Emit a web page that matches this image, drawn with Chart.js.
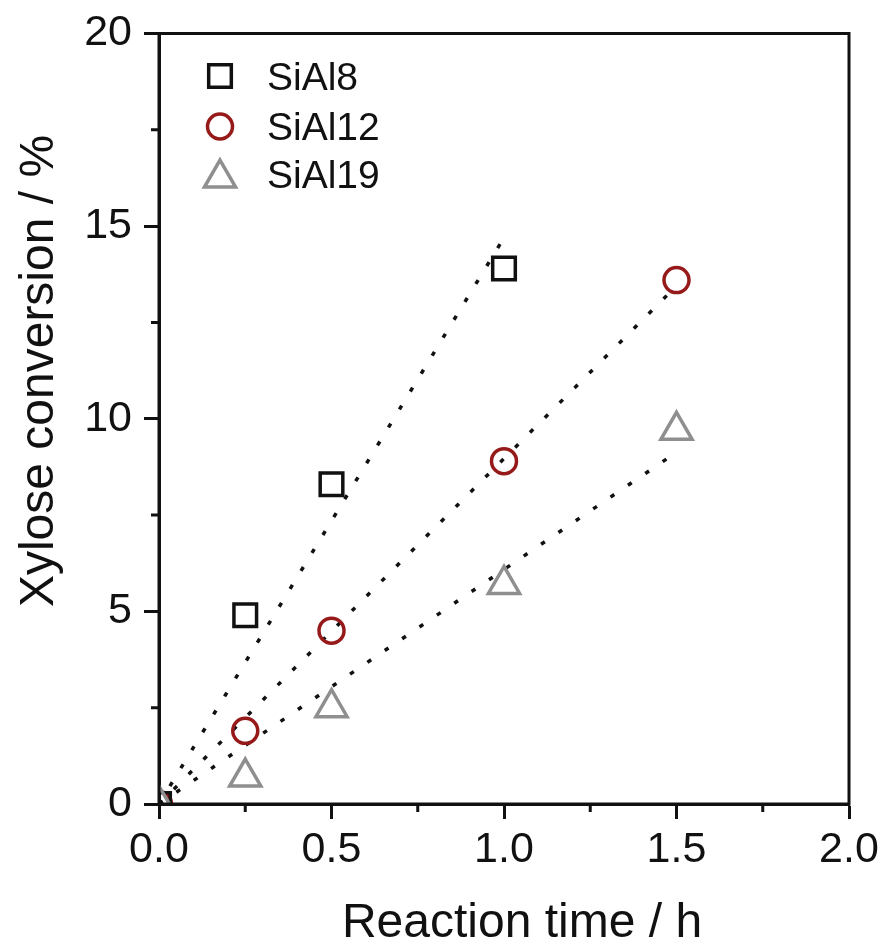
<!DOCTYPE html>
<html>
<head>
<meta charset="utf-8">
<script src="https://cdn.jsdelivr.net/npm/chart.js@4/dist/chart.umd.min.js"></script>
<style>
  body { margin: 0; background: #fff; }
  #wrap { width: 885px; height: 947px; }
</style>
</head>
<body>
<div id="wrap"><canvas id="chart-1" width="885" height="947"></canvas></div>
<script>
// measured points (reaction time in h, conversion in %)
const time_sial8 = [0, 0.25, 0.5, 1.0];
const conv_sial8 = [0, 4.9, 8.3, 13.9];
const time_sial12 = [0, 0.25, 0.5, 1.0, 1.5];
const conv_sial12 = [0, 1.9, 4.5, 8.9, 13.6];
const time_sial19 = [0, 0.25, 0.5, 1.0, 1.5];
const conv_sial19 = [0, 0.7, 2.5, 5.7, 9.7];

// linear fits through origin (dotted lines)
const fit_x_sial8 = [0, 1.0];
const fit_y_sial8 = [0, 14.7];
const fit_x_sial12 = [0, 1.5];
const fit_y_sial12 = [0, 13.45];
const fit_x_sial19 = [0, 1.5];
const fit_y_sial19 = [0, 9.13];

const series_names = ["SiAl8", "SiAl12", "SiAl19"];
const x_ticks = [0, 0.5, 1.0, 1.5, 2.0];
const y_ticks = [0, 5, 10, 15, 20];
const x_minor = [0.25, 0.75, 1.25, 1.75];
const y_minor = [2.5, 7.5, 12.5, 17.5];
const x_title = "Reaction time / h";
const y_title = "Xylose conversion / %";

const FONT = "'Liberation Sans', Arial, sans-serif";
const AXIS = "#111111";

function toPoints(xs, ys) {
    var pts = [];
    for (let i = 0; i < xs.length; i++) {
        pts.push({ x: xs[i], y: ys[i] });
    }
    return pts;
}

function fitLine(xs, ys) {
    return {
        type: "line",
        data: toPoints(xs, ys),
        showLine: true,
        borderColor: "#111111",
        borderWidth: 3.5,
        borderDash: [4.5, 16.5],
        pointRadius: 0,
        fill: false,
        order: 5,
    };
}

const markers = [
    { data: toPoints(time_sial8, conv_sial8), pointStyle: "rect", pointRadius: 16, pointBorderColor: "#111111", order: 1 },
    { data: toPoints(time_sial12, conv_sial12), pointStyle: "circle", pointRadius: 12.5, pointBorderColor: "#961a1a", order: 2 },
    { data: toPoints(time_sial19, conv_sial19), pointStyle: "triangle", pointRadius: 18, pointBorderColor: "#8f8f8f", order: 0 },
];

var datasets = [];
for (let i = 0; i < markers.length; i++) {
    datasets.push({
        label: series_names[i],
        data: markers[i].data,
        pointStyle: markers[i].pointStyle,
        pointRadius: markers[i].pointRadius,
        pointHoverRadius: markers[i].pointRadius,
        pointBorderColor: markers[i].pointBorderColor,
        pointBackgroundColor: "rgba(0,0,0,0)",
        pointBorderWidth: 3.5,
        showLine: false,
        order: markers[i].order,
    });
}
datasets.push(fitLine(fit_x_sial8, fit_y_sial8));
datasets.push(fitLine(fit_x_sial12, fit_y_sial12));
datasets.push(fitLine(fit_x_sial19, fit_y_sial19));

// box, minor ticks, titles and the in-plot legend
const decor = {
    id: "decor",
    afterDraw(chart) {
        const ctx = chart.ctx;
        const a = chart.chartArea;
        const xs = chart.scales.x;
        const ys = chart.scales.y;
        ctx.save();
        ctx.strokeStyle = AXIS;
        ctx.lineWidth = 3;
        ctx.strokeRect(a.left, a.top, a.right - a.left, a.bottom - a.top);

        ctx.beginPath();
        for (let i = 0; i < x_minor.length; i++) {
            const px = xs.getPixelForValue(x_minor[i]);
            ctx.moveTo(px, a.bottom);
            ctx.lineTo(px, a.bottom + 8);
        }
        for (let i = 0; i < y_minor.length; i++) {
            const py = ys.getPixelForValue(y_minor[i]);
            ctx.moveTo(a.left, py);
            ctx.lineTo(a.left - 8, py);
        }
        ctx.stroke();

        ctx.fillStyle = "#111111";
        ctx.font = "48px " + FONT;
        ctx.textAlign = "center";
        ctx.textBaseline = "alphabetic";
        ctx.fillText(x_title, 522, 937);
        ctx.translate(53, 371);
        ctx.rotate(-Math.PI / 2);
        ctx.fillText(y_title, 0, 0);
        ctx.restore();

        // legend
        ctx.save();
        const rows = [
            { mark: 76, base: 90 },
            { mark: 126.5, base: 139.5 },
            { mark: 178, base: 188 },
        ];
        for (let i = 0; i < markers.length; i++) {
            const m = markers[i];
            const opts = {
                pointStyle: m.pointStyle,
                radius: m.pointRadius,
                borderWidth: 3.5,
                rotation: 0,
            };
            ctx.strokeStyle = m.pointBorderColor;
            ctx.fillStyle = "rgba(0,0,0,0)";
            ctx.lineWidth = 3.5;
            Chart.helpers.drawPoint(ctx, opts, 220, rows[i].mark);
            ctx.fillStyle = "#111111";
            ctx.font = "39px " + FONT;
            ctx.textAlign = "left";
            ctx.textBaseline = "alphabetic";
            ctx.fillText(series_names[i], 267, rows[i].base);
        }
        ctx.restore();
    },
};

const ctx = document.getElementById("chart-1").getContext("2d");
const myChart = new Chart(ctx, {
    type: "scatter",
    data: { datasets: datasets },
    options: {
        responsive: false,
        animation: false,
        layout: { padding: { left: 0, right: 36, top: 29, bottom: 0 } },
        plugins: {
            legend: { display: false },
            tooltip: { enabled: false },
        },
        scales: {
            x: {
                type: "linear",
                min: 0,
                max: 2,
                afterBuildTicks: function(scale) {
                    scale.ticks = x_ticks.map(function(v) { return { value: v }; });
                },
                afterFit: function(scale) { scale.height = 143; },
                ticks: {
                    color: "#111111",
                    font: { size: 43, family: FONT },
                    padding: 5,
                    maxRotation: 0,
                    callback: function(v) { return v.toFixed(1); },
                },
                grid: {
                    drawOnChartArea: false,
                    drawTicks: true,
                    tickLength: 15,
                    tickWidth: 3,
                    tickColor: AXIS,
                },
                border: { display: true, color: AXIS, width: 3 },
            },
            y: {
                type: "linear",
                min: 0,
                max: 20,
                afterBuildTicks: function(scale) {
                    scale.ticks = y_ticks.map(function(v) { return { value: v }; });
                },
                afterFit: function(scale) { scale.width = 159; },
                ticks: {
                    color: "#111111",
                    font: { size: 43, family: FONT, lineHeight: 1.0 },
                    padding: 12,
                    callback: function(v) { return String(v); },
                },
                grid: {
                    drawOnChartArea: false,
                    drawTicks: true,
                    tickLength: 15,
                    tickWidth: 3,
                    tickColor: AXIS,
                },
                border: { display: true, color: AXIS, width: 3 },
            },
        },
    },
    plugins: [decor],
});
</script>
</body>
</html>
